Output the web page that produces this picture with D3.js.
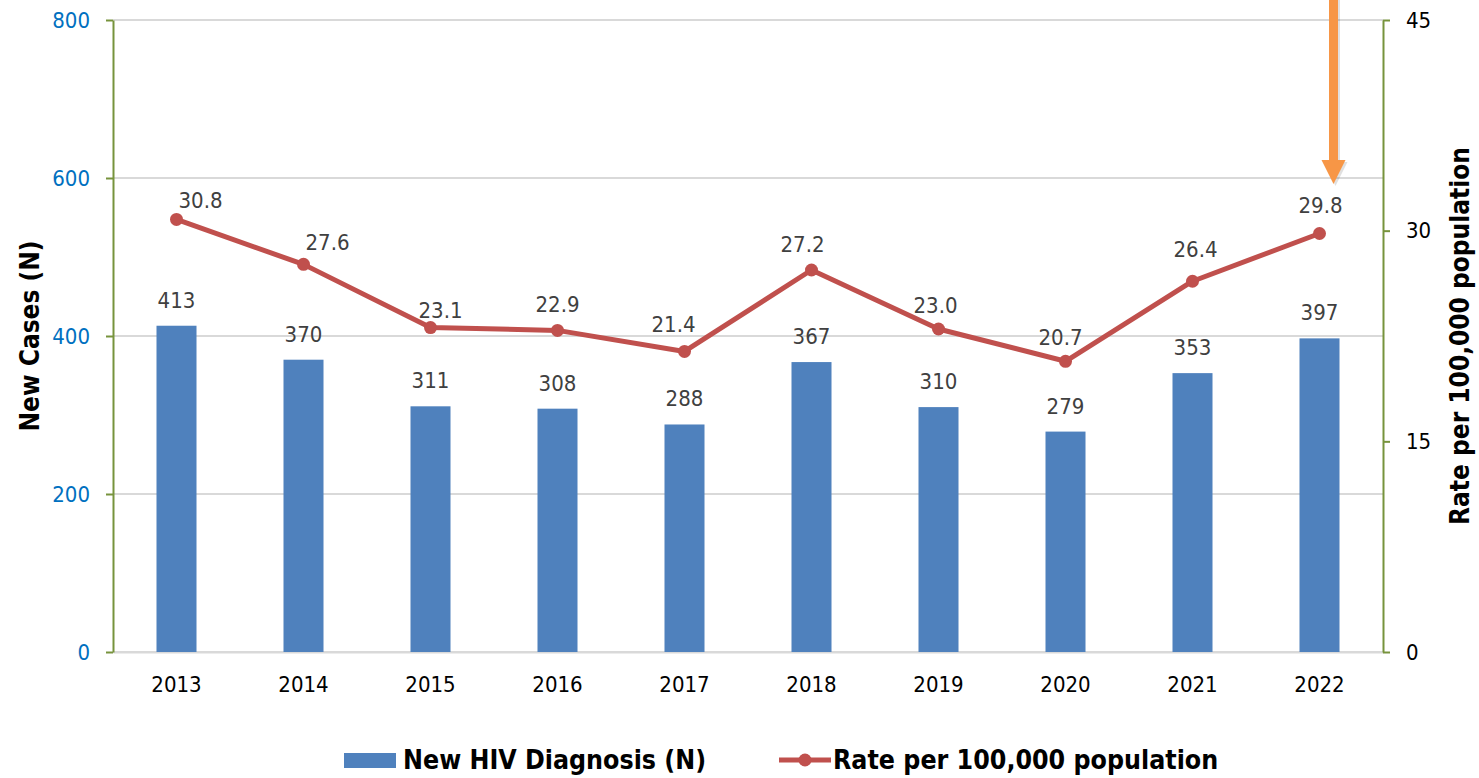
<!DOCTYPE html>
<html>
<head>
<meta charset="utf-8">
<script src="https://cdn.jsdelivr.net/npm/d3@7"></script>
<style>
  body { margin: 0; background: #fff; }
  svg { display: block; font-family: "DejaVu Sans Condensed", "DejaVu Sans", sans-serif; font-stretch: condensed; }
</style>
</head>
<body>
<div id="chart"></div>
<script>
// ============================================================
//  DATA
// ============================================================
const years = ["2013", "2014", "2015", "2016", "2017", "2018", "2019", "2020", "2021", "2022"];
const newCases = [413, 370, 311, 308, 288, 367, 310, 279, 353, 397];
const ratePer100k = [30.8, 27.6, 23.1, 22.9, 21.4, 27.2, 23.0, 20.7, 26.4, 29.8];
const leftTicks = [0, 200, 400, 600, 800];
const rightTicks = [0, 15, 30, 45];
const seriesNames = ["New HIV Diagnosis (N)", "Rate per 100,000 population"];

// ============================================================
//  CONFIG
// ============================================================
const CONFIG = {
    WIDTH: 1479,
    HEIGHT: 778,
    PLOT: { LEFT: 113, RIGHT: 1383, TOP: 20, BOTTOM: 652 },
    FONT: '"DejaVu Sans Condensed", "DejaVu Sans", sans-serif',
    BAR_COLOR: "#4F81BD",
    LINE_COLOR: "#C0504D",
    AXIS_COLOR: "#77933C",
    GRID_COLOR: "#D9D9D9",
    LEFT_TICK_COLOR: "#0070C0",
    LABEL_COLOR: "#404040",
    ARROW_COLOR: "#F79646",
    FONT_SIZE: 22,
    TITLE_SIZE: 26,
    LEGEND_SIZE: 26.5,
    BAR_PADDING: 0.685,
    LINE_WIDTH: 5,
    MARKER_R: 6.5,
    BAR_LABEL_GAP: 18,
    // hand-placed nudges for the rate labels, like in the original
    RATE_LABEL_DX: [24, 24, 10, 0, -11, -9, -3, -5, 3, 1],
    RATE_LABEL_DY: [-11, -14, -10, -18, -19, -18, -16, -16, -24, -20],
};

const P = CONFIG.PLOT;

const svg = d3.select("#chart").append("svg")
    .attr("width", CONFIG.WIDTH)
    .attr("height", CONFIG.HEIGHT);

// --- Scales ---
const x = d3.scaleBand()
    .domain(years)
    .range([P.LEFT, P.RIGHT])
    .paddingInner(CONFIG.BAR_PADDING)
    .paddingOuter(CONFIG.BAR_PADDING / 2);
const xc = d => x(d) + x.bandwidth() / 2;

const yLeft = d3.scaleLinear().domain([0, 800]).range([P.BOTTOM, P.TOP]);
const yRight = d3.scaleLinear().domain([0, 45]).range([P.BOTTOM, P.TOP]);

// --- Gridlines ---
svg.append("g")
    .selectAll("line")
    .data(leftTicks)
    .join("line")
    .attr("x1", P.LEFT)
    .attr("x2", P.RIGHT)
    .attr("y1", d => yLeft(d))
    .attr("y2", d => yLeft(d))
    .attr("stroke", CONFIG.GRID_COLOR)
    .attr("stroke-width", 2);

// --- Bottom axis ---
const xAxis = svg.append("g")
    .attr("transform", `translate(0, ${P.BOTTOM})`)
    .call(d3.axisBottom(x).tickSize(0).tickPadding(24));
xAxis.select(".domain").attr("stroke", CONFIG.GRID_COLOR).attr("stroke-width", 2);
xAxis.selectAll(".tick text")
    .attr("font-size", CONFIG.FONT_SIZE)
    .attr("font-family", CONFIG.FONT)
    .attr("fill", "#000");

// --- Bars ---
const bars = years.map((y, i) => ({ year: y, value: newCases[i] }));
svg.append("g")
    .selectAll("rect")
    .data(bars)
    .join("rect")
    .attr("x", d => x(d.year))
    .attr("y", d => yLeft(d.value))
    .attr("width", x.bandwidth())
    .attr("height", d => yLeft(0) - yLeft(d.value))
    .attr("fill", CONFIG.BAR_COLOR);

svg.append("g")
    .selectAll("text")
    .data(bars)
    .join("text")
    .attr("x", d => xc(d.year))
    .attr("y", d => yLeft(d.value) - CONFIG.BAR_LABEL_GAP)
    .attr("text-anchor", "middle")
    .attr("font-size", CONFIG.FONT_SIZE)
    .attr("fill", CONFIG.LABEL_COLOR)
    .text(d => d.value);

// --- Left axis ---
const leftAxis = svg.append("g")
    .attr("transform", `translate(${P.LEFT}, 0)`)
    .call(d3.axisLeft(yLeft).tickValues(leftTicks).tickSize(7).tickSizeOuter(0).tickPadding(16));
leftAxis.select(".domain").attr("stroke", CONFIG.AXIS_COLOR).attr("stroke-width", 2);
leftAxis.selectAll(".tick line").attr("stroke", CONFIG.AXIS_COLOR).attr("stroke-width", 2);
leftAxis.selectAll(".tick text")
    .attr("font-size", CONFIG.FONT_SIZE)
    .attr("font-family", CONFIG.FONT)
    .attr("fill", CONFIG.LEFT_TICK_COLOR);

// --- Right axis ---
const rightAxis = svg.append("g")
    .attr("transform", `translate(${P.RIGHT}, 0)`)
    .call(d3.axisRight(yRight).tickValues(rightTicks).tickSize(7).tickSizeOuter(0).tickPadding(16));
rightAxis.select(".domain").attr("stroke", CONFIG.AXIS_COLOR).attr("stroke-width", 2);
rightAxis.selectAll(".tick line").attr("stroke", CONFIG.AXIS_COLOR).attr("stroke-width", 2);
rightAxis.selectAll(".tick text")
    .attr("font-size", CONFIG.FONT_SIZE)
    .attr("font-family", CONFIG.FONT)
    .attr("fill", "#000");

// --- Rate line ---
const points = years.map((y, i) => ({ year: y, value: ratePer100k[i], i }));
const line = d3.line()
    .x(d => xc(d.year))
    .y(d => yRight(d.value));

svg.append("path")
    .datum(points)
    .attr("d", line)
    .attr("fill", "none")
    .attr("stroke", CONFIG.LINE_COLOR)
    .attr("stroke-width", CONFIG.LINE_WIDTH)
    .attr("stroke-linejoin", "round");

svg.append("g")
    .selectAll("circle")
    .data(points)
    .join("circle")
    .attr("cx", d => xc(d.year))
    .attr("cy", d => yRight(d.value))
    .attr("r", CONFIG.MARKER_R)
    .attr("fill", CONFIG.LINE_COLOR);

svg.append("g")
    .selectAll("text")
    .data(points)
    .join("text")
    .attr("x", d => xc(d.year) + CONFIG.RATE_LABEL_DX[d.i])
    .attr("y", d => yRight(d.value) + CONFIG.RATE_LABEL_DY[d.i])
    .attr("text-anchor", "middle")
    .attr("font-size", CONFIG.FONT_SIZE)
    .attr("fill", CONFIG.LABEL_COLOR)
    .text(d => d.value.toFixed(1));

// --- Axis titles ---
svg.append("text")
    .attr("transform", `translate(39, ${(P.TOP + P.BOTTOM) / 2}) rotate(-90)`)
    .attr("text-anchor", "middle")
    .attr("font-size", CONFIG.TITLE_SIZE)
    .attr("font-weight", "bold")
    .text("New Cases (N)");

svg.append("text")
    .attr("transform", `translate(1469, ${(P.TOP + P.BOTTOM) / 2}) rotate(-90)`)
    .attr("text-anchor", "middle")
    .attr("font-size", CONFIG.TITLE_SIZE)
    .attr("font-weight", "bold")
    .text(seriesNames[1]);

// --- Orange arrow pointing at 2022 ---
const ax = xc(years[years.length - 1]) + 14;
const arrowPath = `M${ax - 4.5},-5 L${ax + 4.5},-5 L${ax + 4.5},160 L${ax + 12},160 L${ax},184 L${ax - 12},160 L${ax - 4.5},160 Z`;
const arrow = svg.append("g");
arrow.append("path")
    .attr("transform", "translate(2, 2)")
    .attr("d", arrowPath)
    .attr("fill", "#000")
    .attr("opacity", 0.12);
arrow.append("path")
    .attr("d", arrowPath)
    .attr("fill", CONFIG.ARROW_COLOR);

// --- Legend ---
const legend = svg.append("g").attr("transform", "translate(0, 760)");

legend.append("rect")
    .attr("x", 344)
    .attr("y", -7)
    .attr("width", 52)
    .attr("height", 15)
    .attr("fill", CONFIG.BAR_COLOR);
legend.append("text")
    .attr("x", 403)
    .attr("y", 9)
    .attr("font-size", CONFIG.LEGEND_SIZE)
    .attr("font-weight", "bold")
    .text(seriesNames[0]);

legend.append("line")
    .attr("x1", 779)
    .attr("x2", 831)
    .attr("y1", 0)
    .attr("y2", 0)
    .attr("stroke", CONFIG.LINE_COLOR)
    .attr("stroke-width", CONFIG.LINE_WIDTH);
legend.append("circle")
    .attr("cx", 805)
    .attr("cy", 0)
    .attr("r", CONFIG.MARKER_R)
    .attr("fill", CONFIG.LINE_COLOR);
legend.append("text")
    .attr("x", 833)
    .attr("y", 9)
    .attr("font-size", CONFIG.LEGEND_SIZE)
    .attr("font-weight", "bold")
    .text(seriesNames[1]);
</script>
</body>
</html>
